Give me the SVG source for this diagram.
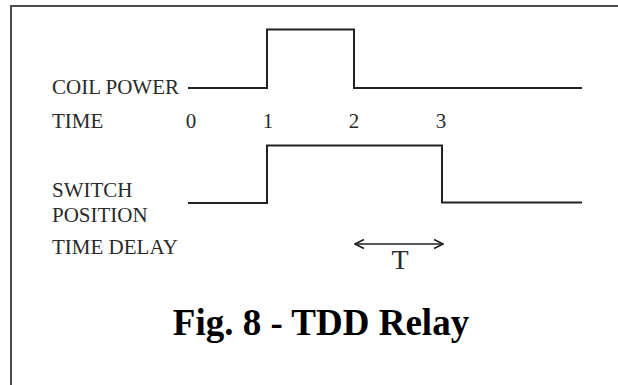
<svg xmlns="http://www.w3.org/2000/svg" width="618" height="385" viewBox="0 0 618 385">
<style>
.lbl{font-family:"Liberation Serif","Times New Roman",serif;font-size:21px;fill:#2a2a2a}
.num{font-family:"Liberation Serif","Times New Roman",serif;font-size:21px;fill:#2a2a2a;text-anchor:middle}
.sig{fill:none;stroke:#222;stroke-width:2}
.title{font-family:"Liberation Serif","Times New Roman",serif;font-size:37px;font-weight:bold;fill:#000;text-anchor:middle}
</style>
<defs>
<marker id="chev" viewBox="0 0 12 12" refX="11" refY="6" markerWidth="12" markerHeight="12" markerUnits="userSpaceOnUse" orient="auto-start-reverse">
<path d="M2,1.5 L11,6 L2,10.5" fill="none" stroke="#222" stroke-width="1.6"/>
</marker>
</defs>
<rect width="618" height="385" fill="#fff"/>
<rect x="11" y="6" width="640" height="420" fill="none" stroke="#4d4d4d" stroke-width="2"/>
<g id="coil-power">
<text class="lbl" x="52" y="94">COIL POWER</text>
<path class="sig" d="M188,88 H267 V29.5 H354 V88 H582"/>
</g>
<g id="time-axis">
<text class="lbl" x="52" y="128">TIME</text>
<text class="num" x="191" y="128">0</text>
<text class="num" x="268" y="128">1</text>
<text class="num" x="354" y="128">2</text>
<text class="num" x="441" y="128">3</text>
</g>
<g id="switch-position">
<text class="lbl" x="52" y="197">SWITCH</text>
<text class="lbl" x="52" y="222">POSITION</text>
<path class="sig" d="M188,203 H267 V145.5 H442 V202.5 H582"/>
</g>
<g id="time-delay">
<text class="lbl" x="52" y="254">TIME DELAY</text>
<text class="num" x="400" y="269" style="font-size:28px">T</text>
</g>
<g id="connectors">
<line x1="355" y1="244" x2="443" y2="244" stroke="#222" stroke-width="1.6" marker-start="url(#chev)" marker-end="url(#chev)"/>
</g>
<g id="caption">
<text class="title" x="321" y="335">Fig. 8 - TDD Relay</text>
</g>
</svg>
